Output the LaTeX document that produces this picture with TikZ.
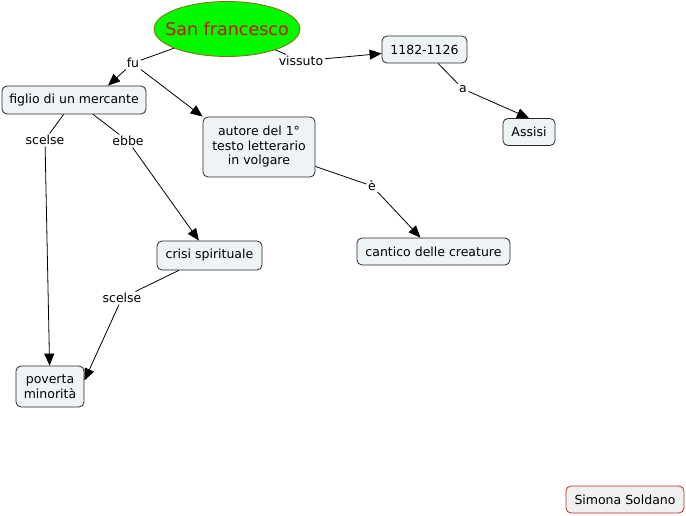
\documentclass[tikz,border=0pt]{standalone}
\usepackage{fontspec}
\setmainfont{DejaVu Sans}
\usetikzlibrary{shapes.geometric,arrows.meta}
\definecolor{boxfill}{RGB}{238,243,246}
\definecolor{boxline}{RGB}{40,40,40}
\definecolor{sfgreen}{RGB}{0,250,0}
\definecolor{sfline}{RGB}{150,100,20}
\definecolor{sfred}{RGB}{200,20,0}
\definecolor{sigline}{RGB}{200,40,40}
\tikzset{
  concept/.style={draw=boxline, fill=boxfill, rounded corners=5pt, line width=0.8pt,
    inner xsep=7pt, inner ysep=3pt, minimum height=27pt, align=center,
    font=\fontsize{12.5}{14.5}\selectfont},
  lbl/.style={inner sep=1.5pt, font=\fontsize{12.5}{14}\selectfont},
  conn/.style={line width=0.8pt, black},
  arr/.style={conn, -{Triangle[length=12pt,width=10pt]}},
}
\begin{document}
\begin{tikzpicture}[x=1pt,y=-1pt]
\useasboundingbox[fill=white] (0,0) rectangle (686,516);
% concepts
\node[ellipse, draw=sfline, fill=sfgreen, line width=0.8pt, minimum width=146pt, minimum height=55pt,
      inner sep=0pt, label={[text=sfred, font=\fontsize{17.5}{19}\selectfont]center:San francesco}] (sf) at (227,29) {};
\node[concept, minimum width=85pt] (y1182) at (424.5,49.5) {1182-1126};
\node[concept, minimum width=52pt] (assisi) at (529,132) {Assisi};
\node[concept, minimum width=144pt, minimum height=28pt] (figlio) at (74,100) {figlio di un mercante};
\node[concept, minimum width=112pt, minimum height=60pt] (autore) at (259,147) {autore del 1°\\testo letterario\\in volgare};
\node[concept, minimum width=105pt, minimum height=29pt] (crisi) at (209.5,255.5) {crisi spirituale};
\node[concept, minimum width=153pt] (cantico) at (433.5,251.5) {cantico delle creature};
\node[concept, minimum width=68pt, minimum height=41pt, inner xsep=3pt] (poverta) at (50,386.5) {poverta\\minorità};
\node[concept, draw=sigline, fill=black!6, minimum width=118pt] (sig) at (625,499.5) {Simona Soldano};
% linking phrases
\node[lbl] (fu) at (133,63) {fu};
\node[lbl] (vissuto) at (301,61) {vissuto};
\node[lbl] (a) at (463,89) {a};
\node[lbl] (scelseA) at (45,140) {scelse};
\node[lbl] (ebbe) at (128,141) {ebbe};
\node[lbl] (e) at (372,186) {è};
\node[lbl] (scelseB) at (122,298) {scelse};
% connectors
\draw[conn] (sf) -- (fu);
\draw[arr] (fu) -- ([xshift=34pt]figlio.north);
\draw[arr] (fu.south east) -- (autore.north west);
\draw[conn] (sf) -- (vissuto);
\draw[arr] (vissuto) -- (y1182);
\draw[conn] (y1182) -- (a);
\draw[arr] (a) -- (assisi.north);
\draw[conn] (figlio) -- (scelseA);
\draw[arr] (scelseA) -- (poverta);
\draw[conn] (figlio) -- (ebbe);
\draw[arr] (ebbe) -- (crisi);
\draw[conn] (autore) -- (e);
\draw[arr] (e) -- (cantico);
\draw[conn] (crisi) -- (scelseB);
\draw[arr] (scelseB) -- ([yshift=6pt]poverta.east);
\end{tikzpicture}
\end{document}
